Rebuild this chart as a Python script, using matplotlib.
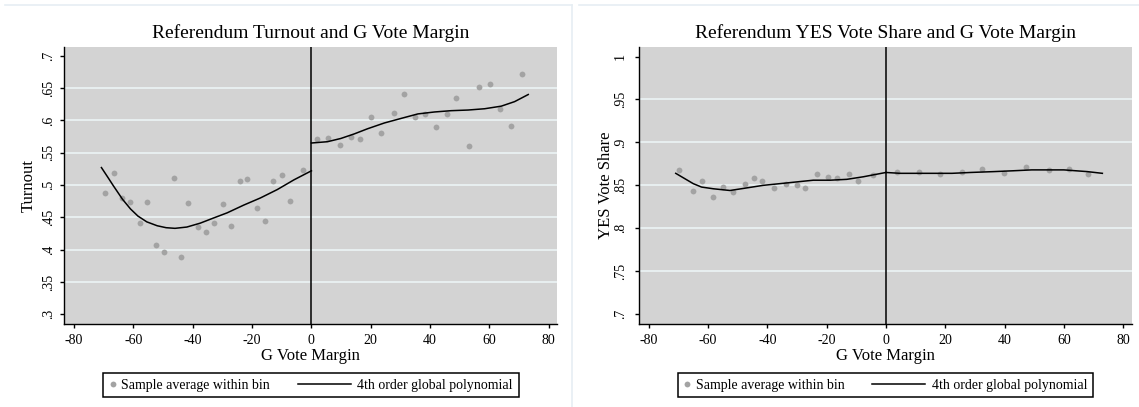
import matplotlib
matplotlib.use("Agg")
import matplotlib.pyplot as plt
from matplotlib.lines import Line2D
from matplotlib.legend_handler import HandlerLine2D

plt.rcParams["font.family"] = "Liberation Serif"
plt.rcParams["axes.unicode_minus"] = False

# --- turnout panel ---
turn_bin_x = [-69.5, -66.7, -63.7, -61.0, -57.7, -55.3, -52.4, -49.6, -46.3, -44.0, -41.6, -38.4,
              -35.5, -32.7, -29.9, -27.0, -24.2, -21.8, -18.5, -15.6, -12.9, -10.0, -7.1, -2.8,
              1.8, 5.6, 9.5, 13.2, 16.4, 20.2, 23.5, 27.7, 31.1, 34.8, 38.2, 41.9, 45.7, 48.9,
              53.2, 56.5, 60.3, 63.6, 67.3, 71.1]
turn_bin_y = [.487, .519, .480, .474, .441, .474, .407, .396, .511, .389, .472, .435,
              .428, .441, .470, .437, .506, .509, .465, .445, .506, .515, .476, .524,
              .571, .573, .562, .575, .571, .606, .580, .612, .641, .606, .610, .589, .610, .634,
              .560, .651, .656, .617, .591, .671]
turn_fit_lx = [-70.8, -68.5, -66.8, -63.7, -61, -58.5, -55.5, -52, -49, -46, -42, -37.5, -33,
               -28.4, -22.8, -17.2, -11.5, -5.9, 0]
turn_fit_ly = [.527, .511, .499, .478, .463, .452, .443, .437, .434, .433, .435, .441, .449,
               .457, .469, .480, .493, .508, .522]
turn_fit_rx = [0, 5.4, 9.9, 14.4, 18.9, 24.6, 30.2, 35.9, 41.5, 47.1, 52.8, 58.4, 64, 68.5, 73.1]
turn_fit_ry = [.565, .567, .572, .579, .587, .596, .603, .610, .613, .615, .616, .618, .622, .629, .640]
turn_ticks = [.3, .35, .4, .45, .5, .55, .6, .65, .7]
turn_tick_labels = [".3", ".35", ".4", ".45", ".5", ".55", ".6", ".65", ".7"]

# --- yes share panel ---
yes_bin_x = [-69.7, -65.0, -62.2, -58.4, -55.0, -51.7, -47.4, -44.6, -41.8, -37.6, -33.8, -30.1,
             -27.2, -23.3, -19.6, -16.4, -12.5, -9.3, -4.4,
             3.6, 11.3, 18.1, 25.8, 32.4, 39.9, 47.4, 55.1, 61.6, 68.2]
yes_bin_y = [.868, .843, .855, .837, .848, .842, .851, .858, .855, .847, .851, .850,
             .847, .863, .860, .858, .863, .855, .862,
             .866, .866, .863, .866, .869, .864, .871, .868, .869, .863]
yes_fit_lx = [-70.9, -65, -62.2, -58.2, -52.6, -47, -41.4, -35.7, -30.1, -24.5, -18.8, -13.2, -7.6, 0]
yes_fit_ly = [.864, .852, .848, .846, .844, .847, .850, .852, .854, .856, .856, .857, .860, .865]
yes_fit_rx = [0, 4.8, 11.6, 22.3, 28.5, 36.4, 43.1, 49.2, 60, 67.9, 73]
yes_fit_ry = [.865, .864, .864, .864, .865, .866, .867, .868, .868, .866, .864]
yes_ticks = [.7, .75, .8, .85, .9, .95, 1]
yes_tick_labels = [".7", ".75", ".8", ".85", ".9", ".95", "1"]

x_ticks = [-80, -60, -40, -20, 0, 20, 40, 60, 80]
x_tick_labels = ["-80", "-60", "-40", "-20", "0", "20", "40", "60", "80"]


class LongLine(HandlerLine2D):
    # line handle that reaches back into the column gap
    def create_artists(self, legend, orig_handle, xdescent, ydescent, width, height, fontsize, trans):
        y = (height - ydescent) / 2
        ln = Line2D([-xdescent - 3.4 * fontsize, -xdescent + width * 0.7], [y, y],
                    color=orig_handle.get_color(), lw=orig_handle.get_linewidth())
        ln.set_transform(trans)
        return [ln]


fig = plt.figure(figsize=(11.39, 4.07), dpi=100)

# faint panel frames
fig.add_artist(Line2D([5 / 1139, 572 / 1139], [1 - 5 / 407] * 2, color="#e6eef3", lw=1.2))
fig.add_artist(Line2D([579 / 1139, 1], [1 - 5 / 407] * 2, color="#e6eef3", lw=1.2))
fig.add_artist(Line2D([572 / 1139] * 2, [0, 1 - 5 / 407], color="#e6eef3", lw=1.2))

panels = [
    ([0.0565, 0.2039, 0.4328, 0.6814], "Referendum Turnout and G Vote Margin", "Turnout",
     turn_bin_x, turn_bin_y, turn_fit_lx, turn_fit_ly, turn_fit_rx, turn_fit_ry,
     turn_ticks, turn_tick_labels, (0.285, 0.714), -0.056, 4.0),
    ([0.5610, 0.2039, 0.4326, 0.6814], "Referendum YES Vote Share and G Vote Margin", "YES Vote Share",
     yes_bin_x, yes_bin_y, yes_fit_lx, yes_fit_ly, yes_fit_rx, yes_fit_ry,
     yes_ticks, yes_tick_labels, (0.6885, 1.0115), -0.051, 5.5),
]

for (rect, title, ylab, bx, by, flx, fly, frx, fry, yt, ytl, ylim, ylab_x, ypad) in panels:
    ax = fig.add_axes(rect)
    ax.set_facecolor("#d3d3d3")
    for s in ["top", "right"]:
        ax.spines[s].set_visible(False)
    for s in ["left", "bottom"]:
        ax.spines[s].set_color("black")
        ax.spines[s].set_linewidth(1.0)

    for v in yt[1:-1]:
        ax.axhline(v, color="#eaf1f3", lw=1.3, zorder=1)
    ax.axvline(0, color="black", lw=1.1, zorder=2)

    pts, = ax.plot(bx, by, "o", color="#a3a3a3", ms=4.2, mec="none", zorder=3,
                   label="Sample average within bin")
    fit, = ax.plot(flx, fly, color="black", lw=1.1, zorder=4, label="4th order global polynomial")
    ax.plot(frx, fry, color="black", lw=1.1, zorder=4)

    ax.set_xlim(-83.3, 82.9)
    ax.set_ylim(*ylim)
    ax.set_xticks(x_ticks)
    ax.set_xticklabels(x_tick_labels, fontsize=10)
    ax.set_yticks(yt)
    ax.set_yticklabels(ytl, fontsize=10, rotation=90, va="center")
    ax.tick_params(axis="x", length=3, width=1, pad=4, colors="black")
    ax.tick_params(axis="y", length=3, width=1, pad=ypad, colors="black")

    ax.set_title(title, fontsize=14, pad=6.5)
    ax.set_xlabel("G Vote Margin", fontsize=12)
    ax.xaxis.set_label_coords(0.5, -0.085)
    ax.set_ylabel(ylab, fontsize=12)
    ax.yaxis.set_label_coords(ylab_x, 0.5)

    leg = ax.legend(handles=[pts, fit], loc="upper center", bbox_to_anchor=(0.5, -0.177),
                    ncol=2, fontsize=10, frameon=True, fancybox=False, framealpha=1,
                    edgecolor="black", borderaxespad=0, borderpad=0.4,
                    handlelength=0.6, handletextpad=0.3, columnspacing=5.4, numpoints=1,
                    handler_map={fit: LongLine()})
    leg.get_frame().set_linewidth(1.1)

fig.savefig("out.png", dpi=100)
